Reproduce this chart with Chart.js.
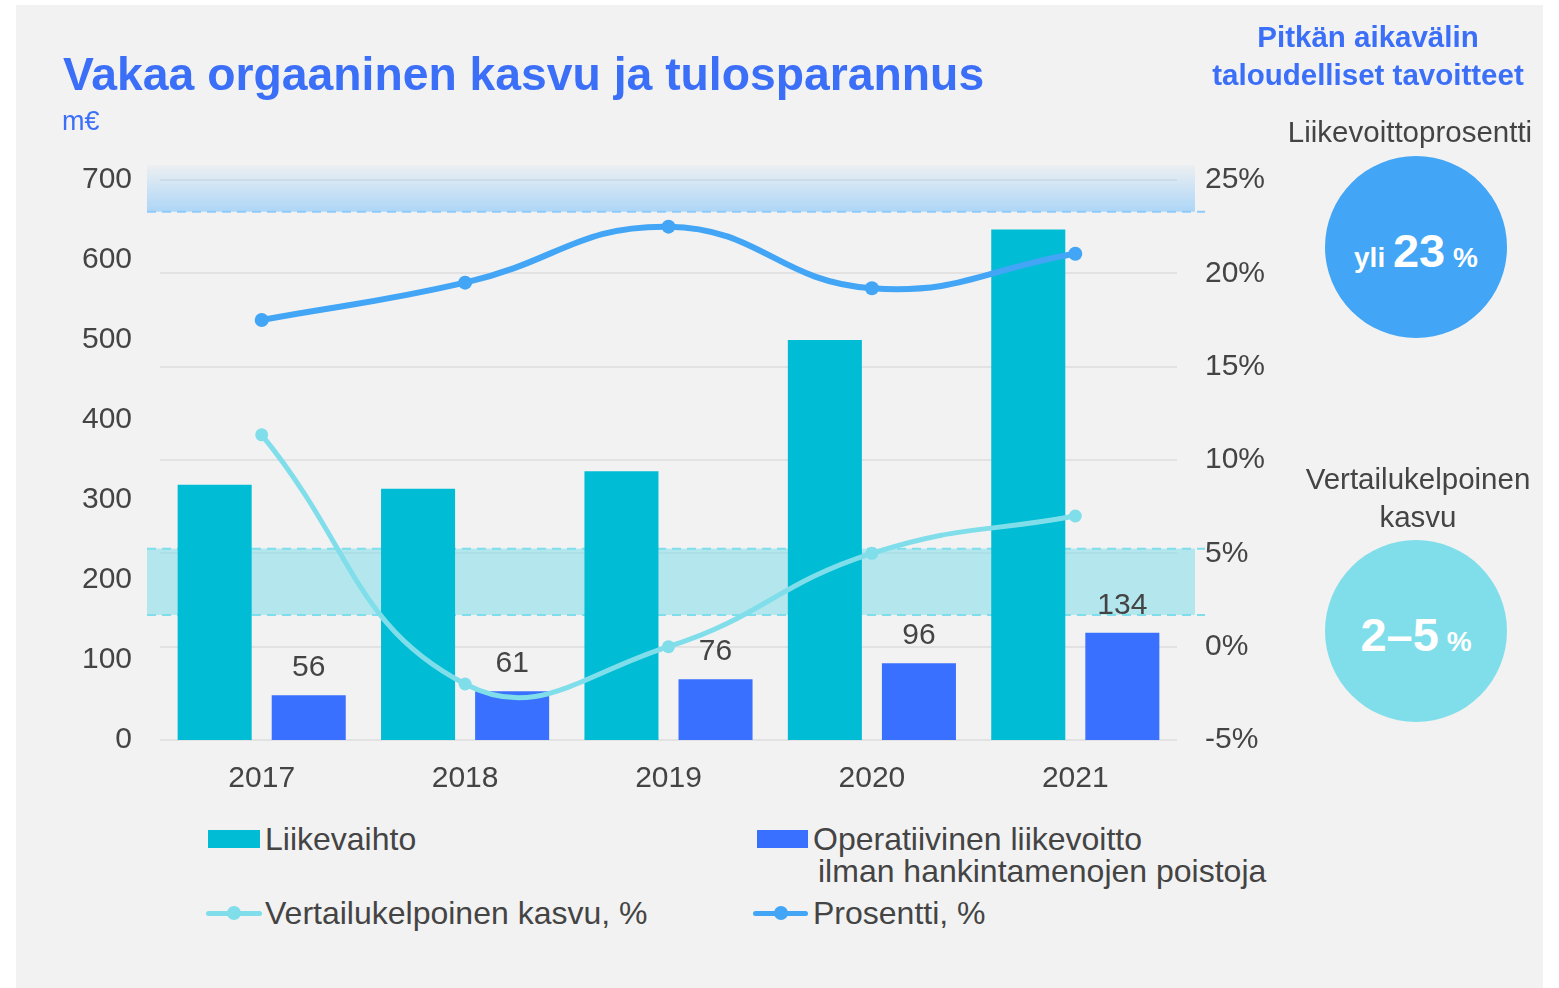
<!DOCTYPE html>
<html>
<head>
<meta charset="utf-8">
<script src="https://cdn.jsdelivr.net/npm/chart.js@4/dist/chart.umd.min.js"></script>
<style>
  body { margin: 0; background: #fff; font-family: "Liberation Sans", Arial, sans-serif; }
  #panel { position: absolute; left: 16px; top: 5px; width: 1527px; height: 983px; background: #f2f2f2; }
  #wrap { position: absolute; left: 0; top: 0; width: 1300px; height: 800px; }
  .t { position: absolute; white-space: nowrap; }
  #title { left: 63px; top: 51px; font-size: 46.3px; line-height: 46px; font-weight: bold; color: #3b6ff8; }
  #unit { left: 62px; top: 105px; font-size: 27px; line-height: 32px; color: #3b6ff8; }
  .head { font-size: 29.5px; line-height: 38px; font-weight: bold; color: #3b6ff8; text-align: center; width: 400px; }
  .sub { font-size: 29.5px; line-height: 38px; color: #444; text-align: center; width: 400px; }
  .circle { position: absolute; width: 182px; height: 182px; border-radius: 50%; color: #fff; font-weight: bold;
            display: flex; align-items: center; justify-content: center; }
  .leg { position: absolute; font-size: 32px; line-height: 36px; color: #444; white-space: nowrap; }
  .box { position: absolute; height: 18px; }
  .lmark { position: absolute; height: 5px; border-radius: 3px; }
  .ldot { position: absolute; width: 14px; height: 14px; border-radius: 50%; }
</style>
</head>
<body>
<div id="panel"></div>
<div id="wrap"><canvas id="chart"></canvas></div>

<div class="t" id="title">Vakaa orgaaninen kasvu ja tulosparannus</div>
<div class="t" id="unit">m€</div>

<div class="t head" style="left:1168px; top:18px;">Pitkän aikavälin</div>
<div class="t head" style="left:1168px; top:56px;">taloudelliset tavoitteet</div>
<div class="t sub" style="left:1210px; top:113px;">Liikevoittoprosentti</div>
<div class="circle" style="left:1325px; top:156px; background:#42a5f5;">
  <div style="margin-top:6px;"><span style="font-size:28px;">yli </span><span style="font-size:47px;">23</span><span style="font-size:28px;"> %</span></div>
</div>
<div class="t sub" style="left:1218px; top:460px;">Vertailukelpoinen</div>
<div class="t sub" style="left:1218px; top:498px;">kasvu</div>
<div class="circle" style="left:1325px; top:540px; background:#80deea;">
  <div style="margin-top:6px;"><span style="font-size:47px;">2–5</span><span style="font-size:28px;"> %</span></div>
</div>

<div id="legend"></div>

<script>
const years = ['2017', '2018', '2019', '2020', '2021'];
const revenue = [319, 314, 336, 500, 638];
const operatingProfit = [56, 61, 76, 96, 134];
const comparableGrowth = [11.35, -2.0, 0.0, 5.0, 7.0];
const profitPercent = [17.5, 19.5, 22.5, 19.2, 21.05];

const seriesNames = ['Liikevaihto', 'Operatiivinen liikevoitto\nilman hankintamenojen poistoja',
                     'Vertailukelpoinen kasvu, %', 'Prosentti, %'];

// long term target bands on the % axis
const profitTarget = 23.3;
const growthTarget = [1.7, 5.25];

const colRevenue = '#00bcd4';
const colProfit = '#3a70ff';
const colGrowth = '#80deea';
const colPercent = '#42a5f5';
const textCol = '#444';
const font = '"Liberation Sans", Arial, sans-serif';

const bandPlugin = {
  id: 'bands',
  beforeDatasetsDraw(chart) {
    const ctx = chart.ctx, y1 = chart.scales.y1, area = chart.chartArea;
    const x0 = area.left - 13, x1 = area.right + 18;
    ctx.save();
    // profit target band
    const yp = y1.getPixelForValue(profitTarget);
    const top = area.top - 15;
    const g = ctx.createLinearGradient(0, top, 0, yp);
    g.addColorStop(0, 'rgba(144,202,249,0.05)');
    g.addColorStop(1, 'rgba(144,202,249,0.7)');
    ctx.fillStyle = g;
    ctx.fillRect(x0, top, x1 - x0, yp - top);
    ctx.setLineDash([9, 6]);
    ctx.lineWidth = 2;
    ctx.strokeStyle = '#90caf9';
    ctx.beginPath(); ctx.moveTo(x0, yp); ctx.lineTo(x1 + 10, yp); ctx.stroke();
    // growth target band
    const ya = y1.getPixelForValue(growthTarget[1]);
    const yb = y1.getPixelForValue(growthTarget[0]);
    ctx.fillStyle = 'rgba(128,222,234,0.55)';
    ctx.fillRect(x0, ya, x1 - x0, yb - ya);
    ctx.strokeStyle = '#80deea';
    ctx.beginPath(); ctx.moveTo(x0, ya); ctx.lineTo(x1 + 10, ya); ctx.stroke();
    ctx.beginPath(); ctx.moveTo(x0, yb); ctx.lineTo(x1 + 10, yb); ctx.stroke();
    ctx.restore();
  }
};

const labelPlugin = {
  id: 'barLabels',
  afterDatasetsDraw(chart) {
    const ctx = chart.ctx;
    const meta = chart.getDatasetMeta(1);
    ctx.save();
    ctx.font = '30px ' + font;
    ctx.fillStyle = textCol;
    ctx.textAlign = 'center';
    ctx.textBaseline = 'middle';
    meta.data.forEach((bar, i) => {
      ctx.fillText(operatingProfit[i], bar.x, bar.y - 27);
    });
    ctx.restore();
  }
};

new Chart(document.getElementById('chart'), {
  type: 'bar',
  data: {
    labels: years,
    datasets: [
      { label: seriesNames[0], data: revenue, backgroundColor: colRevenue, yAxisID: 'y', order: 2,
        categoryPercentage: 0.925, barPercentage: 0.787 },
      { label: seriesNames[1], data: operatingProfit, backgroundColor: colProfit, yAxisID: 'y', order: 2,
        categoryPercentage: 0.925, barPercentage: 0.787 },
      { type: 'line', label: seriesNames[2], data: comparableGrowth, yAxisID: 'y1', order: 1,
        borderColor: colGrowth, backgroundColor: colGrowth, borderWidth: 5, pointRadius: 6.5,
        pointBorderWidth: 0, tension: 0.45 },
      { type: 'line', label: seriesNames[3], data: profitPercent, yAxisID: 'y1', order: 0,
        borderColor: colPercent, backgroundColor: colPercent, borderWidth: 6, pointRadius: 7,
        pointBorderWidth: 0, tension: 0.45 }
    ]
  },
  options: {
    responsive: true,
    maintainAspectRatio: false,
    animation: false,
    layout: { padding: { top: 180, left: 0, right: 0, bottom: 0 } },
    plugins: { legend: { display: false }, tooltip: { enabled: false } },
    scales: {
      x: {
        grid: { display: false, drawTicks: false },
        border: { display: false },
        ticks: { color: textCol, font: { size: 30, family: font }, padding: 21 },
        afterFit(s) { s.height = 60; }
      },
      y: {
        position: 'left', min: 0, max: 700,
        grid: { display: false, drawTicks: false },
        border: { display: false },
        ticks: { stepSize: 100, color: textCol, font: { size: 30, family: font }, padding: 28 },
        afterFit(s) { s.width = 160; }
      },
      y1: {
        position: 'right', min: -5, max: 25,
        grid: { color: '#e2e2e2', lineWidth: 2, drawTicks: false },
        border: { display: false },
        ticks: { stepSize: 5, color: textCol, font: { size: 30, family: font }, padding: 28,
                 callback: v => v + '%' },
        afterFit(s) { s.width = 123; }
      }
    }
  },
  plugins: [bandPlugin, labelPlugin]
});

// legend in html, built from the series names
const legend = document.getElementById('legend');
function addText(x, yc, txt) {
  const d = document.createElement('div');
  d.className = 'leg';
  d.style.left = x + 'px';
  d.style.top = (yc - 18) + 'px';
  d.textContent = txt;
  legend.appendChild(d);
}
function addBox(x, yc, w, col) {
  const b = document.createElement('div');
  b.className = 'box';
  b.style.left = x + 'px'; b.style.top = (yc - 9) + 'px'; b.style.width = w + 'px'; b.style.background = col;
  legend.appendChild(b);
}
function addLine(x, yc, w, col) {
  const l = document.createElement('div');
  l.className = 'lmark';
  l.style.left = x + 'px'; l.style.top = (yc - 2.5) + 'px'; l.style.width = w + 'px'; l.style.background = col;
  legend.appendChild(l);
  const d = document.createElement('div');
  d.className = 'ldot';
  d.style.left = (x + w / 2 - 7) + 'px'; d.style.top = (yc - 7) + 'px'; d.style.background = col;
  legend.appendChild(d);
}
addBox(208, 839, 52, colRevenue);
addText(265, 839, seriesNames[0]);
addBox(757, 839, 51, colProfit);
const profitLines = seriesNames[1].split('\n');
addText(813, 839, profitLines[0]);
addText(818, 871, profitLines[1]);
addLine(206, 913, 56, colGrowth);
addText(265, 913, seriesNames[2]);
addLine(753, 913, 55, colPercent);
addText(813, 913, seriesNames[3]);
</script>
</body>
</html>
